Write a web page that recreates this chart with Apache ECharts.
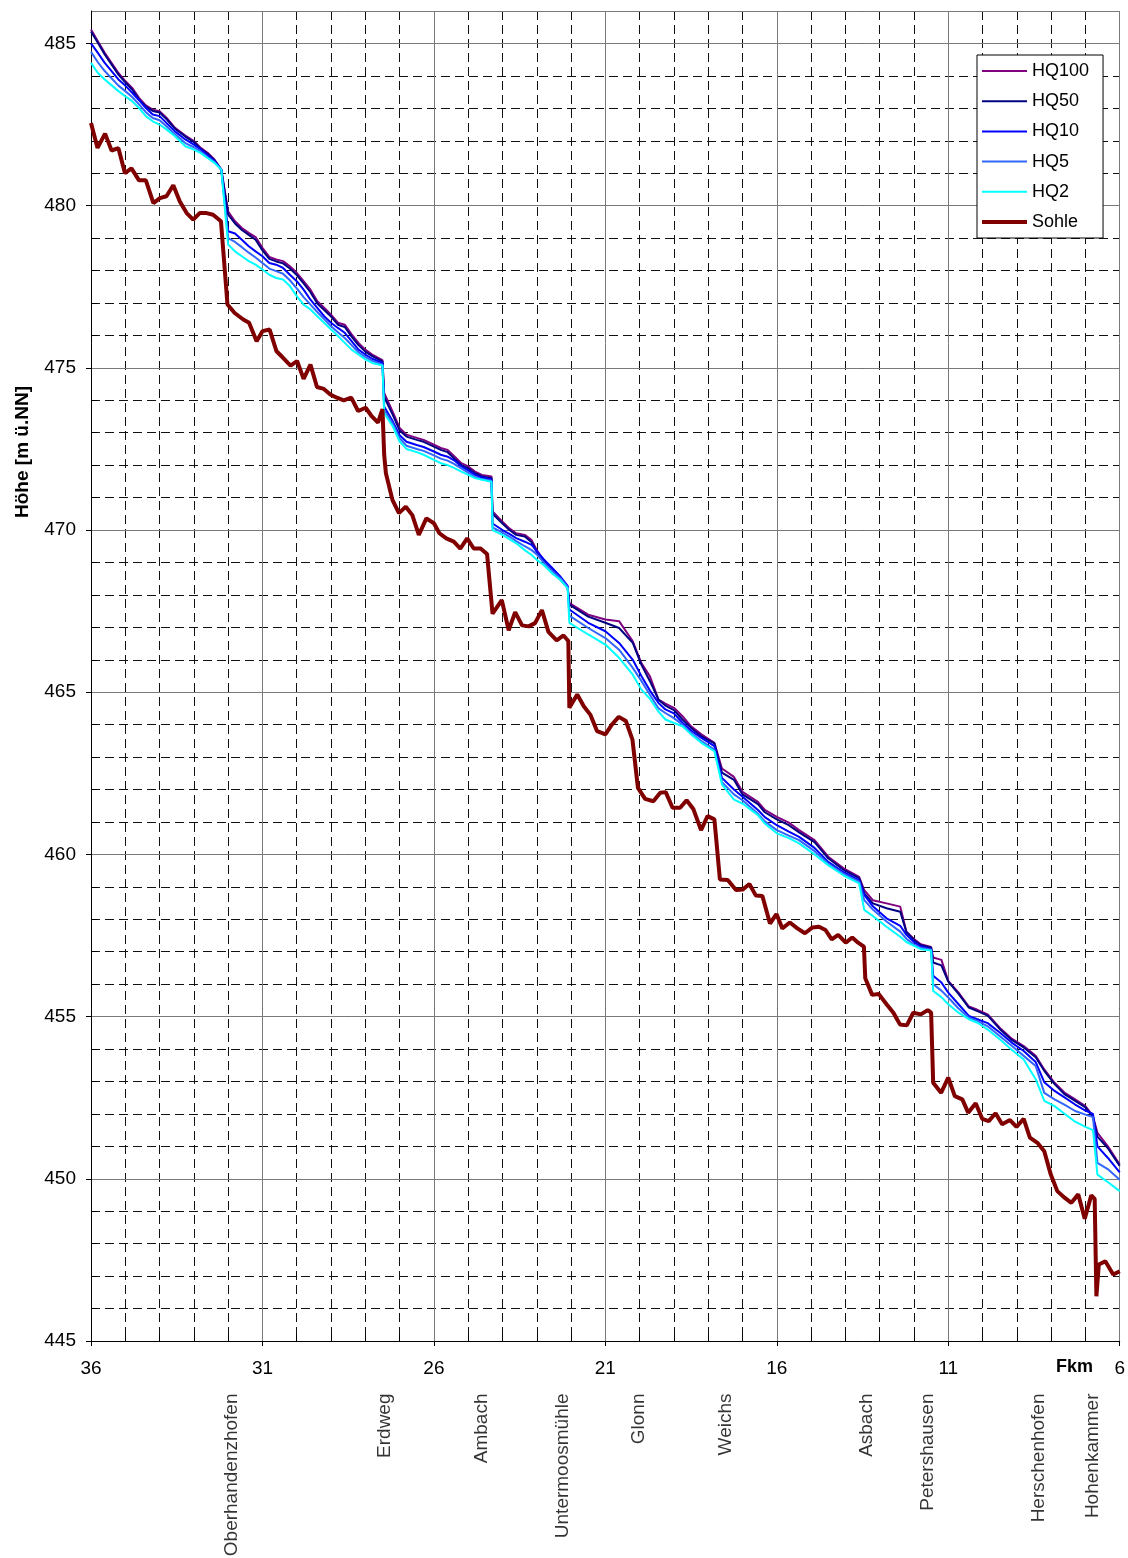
<!DOCTYPE html>
<html>
<head>
<meta charset="utf-8">
<script src="https://cdn.jsdelivr.net/npm/echarts@6/dist/echarts.min.js"></script>
<style>
html,body{margin:0;padding:0;background:#fff;}
#chart{width:1128px;height:1558px;}
</style>
</head>
<body>
<div id="chart"></div>
<script>
// Water level stations (km) shared by the HQ lines
const kmW = [
  36.0, 35.8, 35.6, 35.2, 35.0, 34.8, 34.6, 34.4, 34.2, 34.0, 33.8, 33.55, 33.25, 33.0, 32.8, 32.6, 32.4, 32.2,
  32.0, 31.8, 31.6, 31.4, 31.2, 31.0, 30.8, 30.6, 30.4, 30.2, 30.0, 29.8, 29.6, 29.4, 29.2, 29.0, 28.8, 28.6, 28.4, 28.2, 28.0, 27.8, 27.5,
  27.45, 27.2, 27.0, 26.8, 26.5, 26.3, 26.0, 25.8, 25.6, 25.4, 25.2, 25.0, 24.8, 24.6, 24.32,
  24.29, 24.0, 23.8, 23.6, 23.35, 23.15, 23.0, 22.8, 22.55, 22.3, 22.1,
  22.05, 21.5, 21.0, 20.6, 20.2, 19.95, 19.7, 19.45, 19.25, 19.0, 18.75, 18.5, 18.2, 17.82,
  17.6, 17.25, 17.0, 16.55, 16.35, 16.0, 15.65, 15.35, 14.9, 14.5, 14.05, 13.6, 13.45,
  13.2, 12.8, 12.4, 12.22, 12.0, 11.8, 11.5,
  11.44, 11.2, 11.0, 10.7, 10.4, 10.15, 9.85, 9.5, 9.15, 8.8, 8.45, 8.2, 7.9, 7.6, 7.3, 7.0, 6.78,
  6.65, 6.35, 6.0
];
const hq100 = [
  485.43, 485.07, 484.71, 484.09, 483.84, 483.63, 483.32, 483.09, 482.96, 482.91, 482.71, 482.4, 482.16, 481.99, 481.78, 481.63, 481.42, 481.11,
  479.82, 479.52, 479.31, 479.16, 479.03, 478.7, 478.42, 478.34, 478.29, 478.13, 477.93, 477.67, 477.41, 477.05, 476.85, 476.64, 476.39, 476.33, 476.03, 475.77, 475.56, 475.41, 475.24,
  474.23, 473.64, 473.15, 472.94, 472.84, 472.78, 472.63, 472.53, 472.47, 472.27, 472.06, 471.96, 471.8, 471.7, 471.65,
  470.57, 470.26, 470.05, 469.9, 469.85, 469.69, 469.38, 469.07, 468.81, 468.51, 468.25,
  467.75, 467.39, 467.24, 467.19, 466.57, 465.9, 465.49, 464.77, 464.65, 464.52, 464.26, 463.95, 463.7, 463.44,
  462.65, 462.39, 461.93, 461.62, 461.37, 461.16, 460.98, 460.75, 460.44, 459.93, 459.57, 459.31, 458.9,
  458.59, 458.49, 458.39, 457.62, 457.39, 457.23, 457.15,
  456.82, 456.75, 456.1, 455.74, 455.31, 455.21, 455.07, 454.66, 454.32, 454.09, 453.79, 453.37, 452.96, 452.65, 452.45, 452.24, 451.93,
  451.42, 451.01, 450.44
];
const hq50 = [
  485.37, 485.02, 484.66, 484.04, 483.8, 483.58, 483.27, 483.05, 482.92, 482.87, 482.67, 482.37, 482.13, 481.96, 481.75, 481.6, 481.4, 481.11,
  479.72, 479.45, 479.25, 479.1, 478.95, 478.62, 478.36, 478.28, 478.22, 478.06, 477.86, 477.6, 477.33, 476.98, 476.78, 476.58, 476.33, 476.26, 475.96, 475.7, 475.5, 475.36, 475.2,
  474.1, 473.55, 473.07, 472.88, 472.78, 472.72, 472.57, 472.47, 472.4, 472.2, 472.0, 471.9, 471.75, 471.65, 471.6,
  470.5, 470.2, 470.0, 469.85, 469.8, 469.62, 469.32, 469.02, 468.76, 468.46, 468.22,
  467.7, 467.33, 467.14, 466.98, 466.52, 465.85, 465.34, 464.77, 464.59, 464.45, 464.16, 463.9, 463.64, 463.42,
  462.52, 462.3, 461.85, 461.55, 461.3, 461.08, 460.9, 460.68, 460.38, 459.88, 459.52, 459.27, 458.8,
  458.49, 458.34, 458.23, 457.6, 457.36, 457.2, 457.12,
  456.67, 456.58, 456.08, 455.7, 455.28, 455.17, 455.03, 454.62, 454.28, 454.05, 453.75, 453.33, 452.92, 452.6, 452.4, 452.2, 451.9,
  451.3, 450.95, 450.4
];
const hq10 = [
  485.0, 484.71, 484.4, 483.89, 483.7, 483.48, 483.25, 483.01, 482.81, 482.76, 482.55, 482.29, 482.04, 481.88, 481.73, 481.55, 481.37, 481.11,
  479.21, 479.14, 478.95, 478.75, 478.59, 478.44, 478.23, 478.18, 478.08, 477.87, 477.67, 477.41, 477.1, 476.85, 476.59, 476.39, 476.23, 476.08, 475.82, 475.56, 475.41, 475.28, 475.15,
  473.8, 473.35, 472.92, 472.72, 472.62, 472.56, 472.42, 472.32, 472.26, 472.14, 471.96, 471.84, 471.7, 471.62, 471.56,
  470.2, 470.0, 469.88, 469.75, 469.64, 469.54, 469.35, 469.1, 468.83, 468.55, 468.28,
  467.55, 467.14, 466.88, 466.52, 466.0, 465.5, 465.05, 464.67, 464.47, 464.35, 464.06, 463.82, 463.59, 463.34,
  462.36, 462.0, 461.78, 461.37, 461.15, 460.9, 460.7, 460.54, 460.2, 459.77, 459.45, 459.21, 458.75,
  458.4, 458.03, 457.8, 457.52, 457.3, 457.16, 457.08,
  456.26, 456.05, 455.74, 455.38, 455.02, 454.92, 454.8, 454.51, 454.2, 453.94, 453.6, 452.98, 452.71, 452.5, 452.29, 452.1, 452.0,
  451.0, 450.65, 450.2
];
const hq5 = [
  484.74, 484.42, 484.15, 483.7, 483.53, 483.35, 483.12, 482.88, 482.7, 482.63, 482.45, 482.2, 481.93, 481.8, 481.67, 481.5, 481.34, 481.11,
  479.0, 478.88, 478.72, 478.55, 478.4, 478.23, 478.06, 477.98, 477.9, 477.7, 477.45, 477.18, 476.95, 476.72, 476.5, 476.28, 476.1, 475.92, 475.7, 475.48, 475.33, 475.22, 475.1,
  473.7, 473.28, 472.83, 472.6, 472.5, 472.44, 472.3, 472.2, 472.14, 472.03, 471.9, 471.77, 471.64, 471.57, 471.52,
  470.08, 469.92, 469.8, 469.66, 469.5, 469.38, 469.25, 469.0, 468.74, 468.5, 468.25,
  467.36, 466.98, 466.67, 466.31, 465.75, 465.35, 464.92, 464.5, 464.36, 464.2, 464.0, 463.75, 463.49, 463.23,
  462.23, 461.85, 461.67, 461.25, 461.02, 460.75, 460.58, 460.44, 460.1, 459.72, 459.4, 459.16, 458.59,
  458.3, 457.93, 457.62, 457.4, 457.22, 457.12, 457.06,
  456.0, 455.8, 455.59, 455.25, 454.97, 454.87, 454.7, 454.4, 454.1, 453.79, 453.48, 452.65, 452.45, 452.28, 452.09, 451.98, 451.9,
  450.49, 450.3, 449.97
];
const hq2 = [
  484.4, 484.09, 483.89, 483.53, 483.37, 483.22, 483.01, 482.76, 482.6, 482.5, 482.35, 482.14, 481.83, 481.73, 481.62, 481.47, 481.32, 481.11,
  478.8, 478.59, 478.44, 478.29, 478.18, 478.03, 477.87, 477.77, 477.72, 477.52, 477.21, 476.95, 476.8, 476.59, 476.39, 476.18, 475.98, 475.77, 475.56, 475.41, 475.26, 475.15, 475.07,
  473.6, 473.2, 472.73, 472.5, 472.4, 472.32, 472.16, 472.06, 472.0, 471.91, 471.8, 471.7, 471.6, 471.55, 471.49,
  470.0, 469.85, 469.72, 469.59, 469.38, 469.23, 469.08, 468.92, 468.66, 468.45, 468.2,
  467.14, 466.78, 466.47, 466.06, 465.54, 465.08, 464.8, 464.4, 464.16, 464.05, 463.95, 463.7, 463.44, 463.18,
  462.16, 461.69, 461.57, 461.21, 460.95, 460.65, 460.5, 460.34, 460.0, 459.67, 459.35, 459.11, 458.29,
  458.1, 457.77, 457.46, 457.3, 457.18, 457.08, 457.04,
  455.79, 455.6, 455.38, 455.12, 454.92, 454.81, 454.6, 454.3, 453.98, 453.68, 453.07, 452.4, 452.24, 452.0, 451.76, 451.6, 451.5,
  450.13, 449.9, 449.62
];
// River bed (Sohle)
const kmS = [
  36.0, 35.81, 35.59, 35.40, 35.20, 35.01, 34.82, 34.60, 34.40, 34.18,
  33.99, 33.80, 33.60, 33.41, 33.21, 33.02, 32.83, 32.63, 32.44, 32.21,
  32.02, 31.81, 31.56, 31.39, 31.17, 31.0, 30.79, 30.59, 30.40, 30.18,
  29.99, 29.80, 29.60, 29.41, 29.21, 29.02, 28.83, 28.63, 28.41, 28.21,
  27.99, 27.83, 27.63, 27.5, 27.45, 27.4, 27.21, 27.02, 26.82, 26.63,
  26.44, 26.22, 26.0, 25.84, 25.64, 25.42, 25.23, 25.03, 24.84, 24.64,
  24.45, 24.29, 24.02, 23.82, 23.63, 23.43, 23.24, 23.05, 22.85, 22.66,
  22.42, 22.22, 22.08, 22.05, 21.82, 21.63, 21.44, 21.24, 21.0, 20.81,
  20.61, 20.4, 20.21, 20.05, 19.84, 19.6, 19.4, 19.24, 19.04, 18.82,
  18.63, 18.43, 18.21, 18.02, 17.82, 17.66, 17.43, 17.19, 16.99, 16.8,
  16.61, 16.42, 16.2, 16.01, 15.84, 15.62, 15.4, 15.18, 14.96, 14.77,
  14.58, 14.4, 14.21, 13.99, 13.8, 13.63, 13.46, 13.42, 13.22, 13.03,
  12.8, 12.6, 12.41, 12.21, 12.02, 11.8, 11.6, 11.5, 11.44, 11.21,
  11.0, 10.81, 10.59, 10.42, 10.2, 10.01, 9.82, 9.62, 9.43, 9.2,
  9.01, 8.8, 8.62, 8.4, 8.2, 8.01, 7.82, 7.6, 7.41, 7.21,
  7.02, 6.83, 6.73, 6.68, 6.61, 6.42, 6.19, 6.0
];
const sohle = [
  482.55, 481.78, 482.22, 481.7, 481.77, 481.0, 481.15, 480.78, 480.78, 480.08,
  480.23, 480.29, 480.63, 480.13, 479.77, 479.57, 479.77, 479.77, 479.72, 479.52,
  476.95, 476.69, 476.49, 476.39, 475.82, 476.13, 476.18, 475.51, 475.31, 475.07,
  475.21, 474.66, 475.1, 474.41, 474.35, 474.18, 474.08, 474.0, 474.08, 473.67,
  473.77, 473.53, 473.31, 473.73, 472.32, 471.75, 470.93, 470.52, 470.72, 470.46,
  469.85, 470.36, 470.21, 469.9, 469.74, 469.64, 469.43, 469.74, 469.43, 469.43,
  469.26, 467.42, 467.84, 466.91, 467.47, 467.06, 467.03, 467.13, 467.53, 466.86,
  466.6, 466.75, 466.58, 464.52, 464.93, 464.57, 464.31, 463.8, 463.7, 464.0,
  464.24, 464.11, 463.54, 462.05, 461.71, 461.64, 461.9, 461.92, 461.44, 461.44,
  461.67, 461.39, 460.75, 461.18, 461.08, 459.23, 459.21, 458.9, 458.92, 459.09,
  458.73, 458.72, 457.87, 458.16, 457.72, 457.9, 457.72, 457.57, 457.75, 457.77,
  457.67, 457.38, 457.52, 457.28, 457.44, 457.28, 457.16, 456.18, 455.67, 455.7,
  455.38, 455.12, 454.76, 454.73, 455.12, 455.07, 455.2, 455.12, 452.96, 452.65,
  453.12, 452.55, 452.45, 452.04, 452.33, 451.85, 451.78, 452.02, 451.68, 451.81,
  451.6, 451.85, 451.27, 451.11, 450.85, 450.13, 449.62, 449.41, 449.26, 449.52,
  448.77, 449.49, 449.38, 446.38, 447.36, 447.46, 447.05, 447.15
];
// Place names along the river (km)
const locNames = ['Oberhandenzhofen', 'Erdweg', 'Ambach', 'Untermoosmühle', 'Glonn', 'Weichs', 'Asbach', 'Petershausen', 'Herschenhofen', 'Hohenkammer'];
const locKm = [31.9, 27.42, 24.6, 22.25, 20.03, 17.5, 13.38, 11.6, 8.35, 6.8];

const FONT = '"Liberation Sans", Arial, sans-serif';
const THIN_ICON = 'path://M0,0 H45 V2 H0 Z';
const THICK_ICON = 'path://M0,0 H45 V4 H0 Z';

function pairs(xs, ys) {
  const out = [];
  for (let i = 0; i < Math.min(xs.length, ys.length); i++) out.push([xs[i], ys[i]]);
  return out;
}
function lineSeries(name, ys, color, width, xs) {
  return {
    type: 'line', name: name, data: pairs(xs, ys), xAxisIndex: 0, yAxisIndex: 0,
    symbol: 'none', showSymbol: false, smooth: false, animation: false,
    lineStyle: { color: color, width: width }, itemStyle: { color: color }, z: 3
  };
}

const chart = echarts.init(document.getElementById('chart'), null, { renderer: 'canvas' });
chart.setOption({
  backgroundColor: '#fff',
  animation: false,
  grid: { left: 91, right: 7, top: 11, bottom: 217, containLabel: false },
  legend: {
    data: [
      { name: 'HQ100', icon: THIN_ICON },
      { name: 'HQ50', icon: THIN_ICON },
      { name: 'HQ10', icon: THIN_ICON },
      { name: 'HQ5', icon: THIN_ICON },
      { name: 'HQ2', icon: THIN_ICON },
      { name: 'Sohle', icon: THICK_ICON }
    ],
    orient: 'vertical', left: 977, top: 55,
    itemWidth: 45, itemHeight: 14, itemGap: 12.2,
    padding: [7, 14, 7, 5],
    borderColor: '#000', borderWidth: 1, backgroundColor: '#fff', borderRadius: 0,
    textStyle: { fontSize: 18, color: '#000', fontFamily: FONT },
    selectedMode: false
  },
  xAxis: [
    {
      type: 'value', min: 6, max: 36, interval: 5, inverse: true, position: 'bottom', z: 2,
      axisLine: { show: true, onZero: false, lineStyle: { color: '#000', width: 1 } },
      axisTick: { show: true, length: 5, lineStyle: { color: '#000' } },
      axisLabel: { show: true, margin: 18, fontSize: 19, color: '#000', fontFamily: FONT, hideOverlap: false, showMinLabel: true, showMaxLabel: true },
      splitLine: { show: true, lineStyle: { color: '#7a7a7a', width: 1 } }
    },
    {
      type: 'value', min: 6, max: 36, interval: 1, inverse: true, position: 'bottom', z: 1,
      axisLine: { show: false },
      axisTick: { show: true, inside: true, length: 6, lineStyle: { color: '#000' } },
      axisLabel: { show: false },
      splitLine: { show: true, lineStyle: { color: '#111', width: 1, type: [9, 5] } }
    }
  ],
  yAxis: [
    {
      type: 'value', min: 445, max: 486, interval: 5, position: 'left', z: 2,
      name: 'Höhe [m ü.NN]', nameLocation: 'middle', nameGap: 59,
      nameTextStyle: { fontSize: 19, fontWeight: 'bold', color: '#000', fontFamily: FONT, padding: [0, 0, 0, 448] },
      axisLine: { show: true, onZero: false, lineStyle: { color: '#000', width: 1 } },
      axisTick: { show: true, length: 5, lineStyle: { color: '#000' } },
      axisLabel: {
        margin: 15, fontSize: 19, color: '#000', fontFamily: FONT, showMaxLabel: false,
        formatter: function (v) { return (v % 5 === 0) ? String(v) : ''; }
      },
      splitLine: { show: true, lineStyle: { color: '#7a7a7a', width: 1 } }
    },
    {
      type: 'value', min: 445, max: 486, interval: 1, position: 'left', z: 1,
      axisLine: { show: false },
      axisTick: { show: true, inside: true, length: 6, lineStyle: { color: '#000' } },
      axisLabel: { show: false },
      splitLine: { show: true, lineStyle: { color: '#111', width: 1, type: [9, 5] } }
    }
  ],
  graphic: [
    { type: 'text', right: 35, top: 1358, style: { text: 'Fkm', font: 'bold 18px ' + FONT, fill: '#000' } }
  ],
  series: [
    lineSeries('HQ100', hq100, '#800080', 2, kmW),
    lineSeries('HQ50', hq50, '#000080', 2, kmW),
    lineSeries('HQ10', hq10, '#0000ff', 2, kmW),
    lineSeries('HQ5', hq5, '#3366ff', 2, kmW),
    lineSeries('HQ2', hq2, '#00ffff', 2, kmW),
    lineSeries('Sohle', sohle, '#800000', 4, kmS),
    {
      type: 'scatter', name: 'Orte', xAxisIndex: 0, yAxisIndex: 0,
      data: locKm.map(function (k, i) { return { value: [k, 445], name: locNames[i] }; }),
      symbolSize: 1, itemStyle: { color: 'rgba(0,0,0,0)' }, clip: false, silent: true, z: 5,
      label: {
        show: true, position: 'bottom', distance: 52, rotate: 90, align: 'right', verticalAlign: 'middle',
        formatter: '{b}', fontSize: 19, color: '#000', fontFamily: FONT
      }
    }
  ]
});
</script>
</body>
</html>
